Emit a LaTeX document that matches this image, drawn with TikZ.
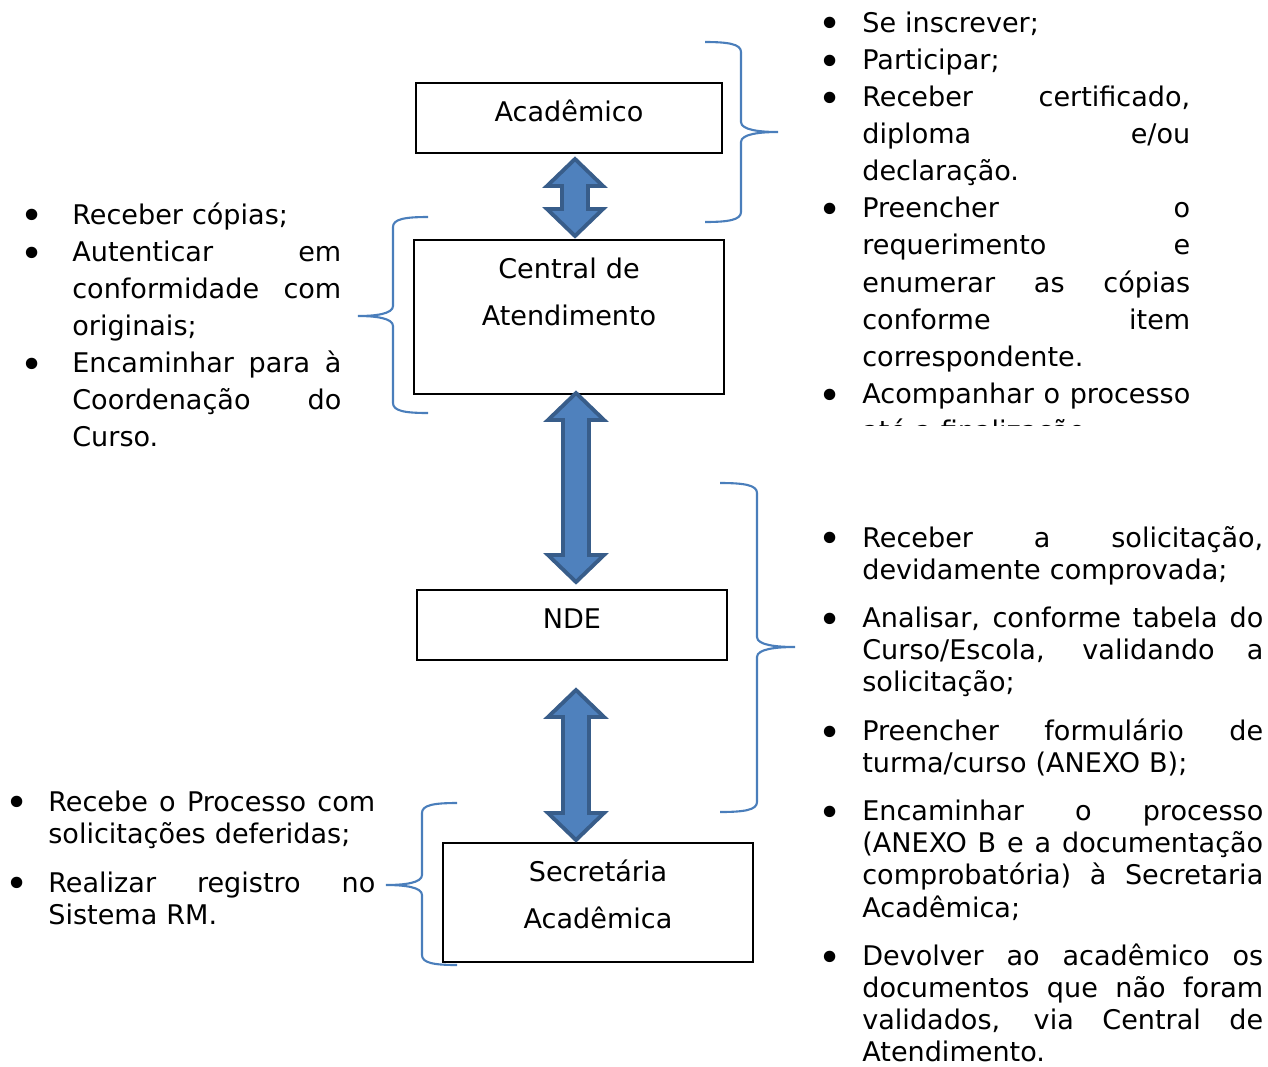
\documentclass[tikz,border=0pt]{standalone}
\usepackage{fontspec}
\setmainfont{DejaVu Sans}

\definecolor{chave}{HTML}{4A7EBB}
\definecolor{setafill}{HTML}{4F81BD}
\definecolor{setaborda}{HTML}{385D8A}

% linha justificada e marcador
\newcommand{\jl}[1]{\makebox[\hsize][s]{\spaceskip=0pt\xspaceskip=0pt #1}}
\newcommand{\bul}[1]{\leavevmode\llap{\makebox[0pt]{\raisebox{-0.22em}{\scalebox{1.45}{\textbullet}}}\hspace{#1}}}
% seta dupla (ponta de cima, ponta de baixo)
\newcommand{\setadupla}[2]{%
\draw[seta] (#1) -- ++(28,27) -- ++(-15,0) -- ([shift={(13,-27)}]#2)
  -- ++(15,0) -- (#2) -- ++(-28,-27) -- ++(15,0) -- ([shift={(-13,27)}]#1)
  -- ++(-15,0) -- cycle;}

\tikzset{
  caixa/.style={draw, line width=1.1pt, inner sep=0pt},
  texto/.style={font=\fontsize{15.4}{21.15}\selectfont, inner sep=0pt, align=left},
  textob/.style={font=\fontsize{15.4}{18.3}\selectfont, inner sep=0pt, align=left},
  textocx/.style={font=\fontsize{15.4}{27.2}\selectfont, inner sep=0pt, align=center, text width=6cm},
  chave/.style={draw=chave, line width=1.2pt},
  seta/.style={fill=setafill, draw=setaborda, line width=2.2pt, line join=miter},
}

\begin{document}
\begin{tikzpicture}[x=0.02cm, y=-0.02cm]
\useasboundingbox (0,0) rectangle (1268,1066);
% Academico
\node[caixa, minimum width=6.12cm, minimum height=1.4cm] (acad) at (569,118) {};
\node[textocx, anchor=base] (acadtxt) at (569,121) {Acadêmico};
% Central de Atendimento
\node[caixa, minimum width=6.2cm, minimum height=3.08cm] (central) at (569,317) {};
\node[textocx, anchor=base] (centraltxt) at (569,278) {Central de\\Atendimento};
% NDE
\node[caixa, minimum width=6.2cm, minimum height=1.4cm] (nde) at (572,625) {};
\node[textocx, anchor=base] (ndetxt) at (572,628) {NDE};
% Secretaria Academica
\node[caixa, minimum width=6.2cm, minimum height=2.38cm] (secret) at (598,902.5) {};
\node[textocx, anchor=base] (secrettxt) at (598,881) {Secretária\\Acadêmica};
% Setas
\coordinate (s1a) at (575,159);
\coordinate (s1b) at (575,236);
\coordinate (s2a) at (576,393);
\coordinate (s2b) at (576,582);
\coordinate (s3a) at (576,690);
\coordinate (s3b) at (576,840);
\setadupla{s1a}{s1b}
\setadupla{s2a}{s2b}
\setadupla{s3a}{s3b}
% Chaves
\draw[chave] (705,42) .. controls (728,42) and (741,44) .. (741,52) -- (741,122)
  .. controls (741,130) and (760,132) .. (778,132) .. controls (760,132) and (741,134) .. (741,142)
  -- (741,212) .. controls (741,220) and (728,222) .. (705,222);
\draw[chave] (428,217) .. controls (405,217) and (393,219) .. (393,227) -- (393,306)
  .. controls (393,314) and (375,316) .. (358,316) .. controls (375,316) and (393,318) .. (393,326)
  -- (393,403) .. controls (393,411) and (405,413) .. (428,413);
\draw[chave] (720,483) .. controls (744,483) and (757,485) .. (757,493) -- (757,637)
  .. controls (757,645) and (776,647) .. (795,647) .. controls (776,647) and (757,649) .. (757,657)
  -- (757,802) .. controls (757,810) and (744,812) .. (720,812);
\draw[chave] (457,803) .. controls (434,803) and (422,805) .. (422,813) -- (422,875)
  .. controls (422,883) and (404,885) .. (386,885) .. controls (404,885) and (422,887) .. (422,895)
  -- (422,955) .. controls (422,963) and (434,965) .. (457,965);
% Lista do academico (cortada embaixo)
\begin{scope}
\clip (790,0) rectangle (1268,425);
\node[texto, text width=6.56cm, anchor=base west] (lstacad) at (862,32) {%
\bul{0.64cm}Se inscrever;\\
\bul{0.64cm}Participar;\\
\bul{0.64cm}\jl{Receber certificado,}\\
\jl{diploma e/ou}\\
declaração.\\
\bul{0.64cm}\jl{Preencher o}\\
\jl{requerimento e}\\
\jl{enumerar as cópias}\\
\jl{conforme item}\\
correspondente.\\
\bul{0.64cm}\jl{Acompanhar o processo}\\
até a finalização.};
\end{scope}
% Lista da central
\node[texto, text width=5.38cm, anchor=base west] (lstcentral) at (72,224) {%
\bul{0.8cm}Receber cópias;\\
\bul{0.8cm}\jl{Autenticar em}\\
\jl{conformidade com}\\
originais;\\
\bul{0.8cm}\jl{Encaminhar para à}\\
\jl{Coordenação do}\\
Curso.};
% Lista do NDE
\node[textob, text width=8.02cm, anchor=base west] (lstnde) at (862,547) {%
\bul{0.64cm}\jl{Receber a solicitação,}\\
devidamente comprovada;\\[9.2pt]
\bul{0.64cm}\jl{Analisar, conforme tabela do}\\
\jl{Curso/Escola, validando a}\\
solicitação;\\[9.2pt]
\bul{0.64cm}\jl{Preencher formulário de}\\
turma/curso (ANEXO B);\\[9.2pt]
\bul{0.64cm}\jl{Encaminhar o processo}\\
\jl{(ANEXO B e a documentação}\\
\jl{comprobatória) à Secretaria}\\
Acadêmica;\\[9.2pt]
\bul{0.64cm}\jl{Devolver ao acadêmico os}\\
\jl{documentos que não foram}\\
\jl{validados, via Central de}\\
Atendimento.};
% Lista da secretaria
\node[textob, text width=6.54cm, anchor=base west] (lstsecret) at (48,811) {%
\bul{0.62cm}\jl{Recebe o Processo com}\\
solicitações deferidas;\\[9.5pt]
\bul{0.62cm}\jl{Realizar registro no}\\
Sistema RM.};
\end{tikzpicture}
\end{document}
